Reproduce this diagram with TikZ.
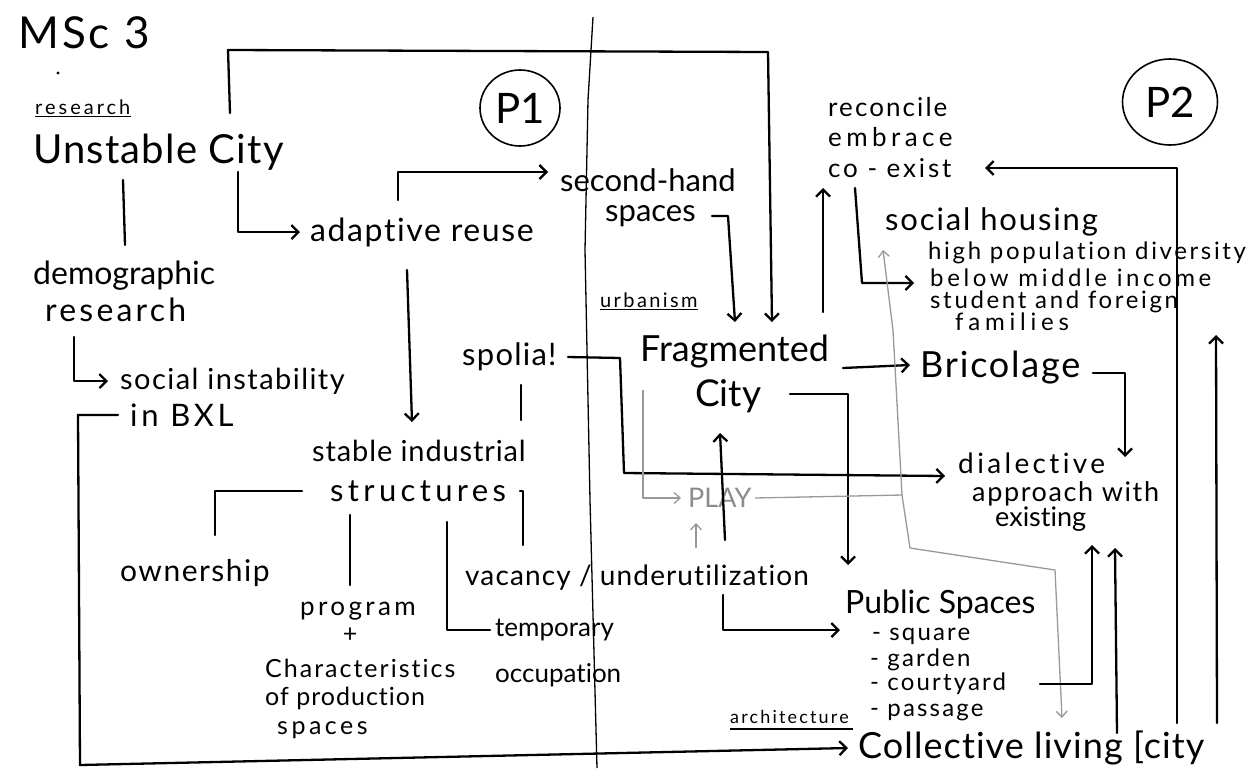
\documentclass[tikz,border=0pt]{standalone}
\usepackage{fontspec}
\setmainfont{Lato}[Ligatures=NoCommon]
\usetikzlibrary{arrows.meta,shapes.geometric}
\newcommand\hw[2]{\fontsize{#1}{#1}\selectfont\addfontfeature{LetterSpace=#2}}
\begin{document}
\begin{tikzpicture}[x=1pt,y=-1pt,
  t/.style={inner sep=0pt, anchor=west},
  ln/.style={line width=2.3pt, line join=round, line cap=round},
  arw/.style={ln, -{Straight Barb[length=7pt,width=14pt]}},
  gry/.style={line width=1.3pt, draw=black!40, line join=round},
  garw/.style={gry, -{Straight Barb[length=6pt,width=11pt]}},
  ul/.style={line width=1.4pt},
  circ/.style={draw, ellipse, line width=1.6pt, inner sep=0pt, font={\hw{42}{0}}},
]
\useasboundingbox (0,0) rectangle (1255,777);
\fill[white] (0,0) rectangle (1255,777);

% ---------- texts ----------
\node[t, font={\hw{44}{7}}] (msc) at (18,33) {MSc 3};
\fill (58,73) circle (1.6);
\node[t, font={\hw{20}{15}}] (res) at (35,107) {research};
\draw[ul] ([yshift=-2pt]res.south west) -- ([yshift=-2pt]res.south east);
\node[t, font={\hw{40}{3}}] (uc) at (33,152) {Unstable City};
\node[t, font={\hw{32}{0}}] (dr1) at (33,276) {demographic};
\node[t, font={\hw{32}{10}}] (dr2) at (45,310) {research};
\node[t, font={\hw{29}{5}}] (si1) at (120,381) {social instability};
\node[t, font={\hw{31}{12}}] (si2) at (130,415) {in BXL};
\node[t, font={\hw{32}{5}}] (ar) at (310,232) {adaptive reuse};
\node[circ, minimum width=80pt, minimum height=76pt] (p1) at (520,108) {P1};
\node[t, font={\hw{31}{0}}] (sh1) at (560,180) {second-hand};
\node[t, font={\hw{31}{0}}] (sh2) at (605,216) {spaces};
\node[t, font={\hw{20}{12}}] (urb) at (600,300) {urbanism};
\draw[ul] ([yshift=-2pt]urb.south west) -- ([yshift=-2pt]urb.south east);
\node[t, font={\hw{31}{4}}] (sp) at (462,357) {spolia!};
\node[t, font={\hw{36}{0}}] (fc1) at (640,352) {Fragmented};
\node[t, font={\hw{37}{0}}] (fc2) at (695,396) {City};
\node[t, font={\hw{29}{3}}] (sis1) at (312,451) {stable industrial};
\node[t, font={\hw{31}{14}}] (sis2) at (330,491) {structures};
\node[t, font={\hw{27}{0}}, text=black!45] (play) at (688,498) {PLAY};
\node[t, font={\hw{30}{5}}] (own) at (120,573) {ownership};
\node[t, font={\hw{28}{4}}] (vu) at (465,578) {vacancy / underutilization};
\node[t, font={\hw{26}{13}}] (pr1) at (300,611) {program};
\node[font={\hw{25}{0}}, inner sep=0pt] (pr2) at (350,635) {+};
\node[t, font={\hw{25}{8}}] (pr3) at (265,668) {Characteristics};
\node[t, font={\hw{25}{4}}] (pr4) at (265,698) {of production};
\node[t, font={\hw{25}{14}}] (pr5) at (277,730) {spaces};
\node[t, font={\hw{26}{0}}] (tm1) at (495,630) {temporary};
\node[t, font={\hw{26}{0}}] (tm2) at (495,675) {occupation};
\node[t, font={\hw{32}{0}}] (ps) at (845,604) {Public Spaces};
\node[t, font={\hw{24}{9}}] (sq) at (872,636) {- square};
\node[t, font={\hw{24}{9}}] (gd) at (870,660) {- garden};
\node[t, font={\hw{24}{9}}] (cy) at (870,684) {- courtyard};
\node[t, font={\hw{24}{9}}] (pa) at (870,712) {- passage};
\node[t, font={\hw{18}{12}}] (arch) at (730,717) {architecture};
\draw[ul] ([yshift=-5pt]arch.south west) -- ([yshift=-5pt,xshift=4pt]arch.south east);
\node[t, font={\hw{36}{3}}] (cl) at (858,748) {Collective living [city};
\node[t, font={\hw{26}{8}}] (rc1) at (828,107) {reconcile};
\node[t, font={\hw{26}{17}}] (rc2) at (828,137) {embrace};
\node[t, font={\hw{26}{11}}] (rc3) at (828,168) {co - exist};
\node[circ, minimum width=95pt, minimum height=86pt] (p2) at (1170,102) {P2};
\node[t, font={\hw{31}{6}}] (shg) at (885,222) {social housing};
\node[t, font={\hw{24}{11}}] (sl1) at (928,253) {high population diversity};
\node[t, font={\hw{24}{15}}] (sl2) at (930,278) {below middle income};
\node[t, font={\hw{24}{11}}] (sl3) at (930,302) {student and foreign};
\node[t, font={\hw{24}{20}}] (sl4) at (955,322) {families};
\node[t, font={\hw{36}{5}}] (bri) at (920,368) {Bricolage};
\node[t, font={\hw{28}{12}}] (di1) at (958,463) {dialective};
\node[t, font={\hw{27}{6}}] (di2) at (972,494) {approach with};
\node[t, font={\hw{27}{0}}] (di3) at (995,519) {existing};

% ---------- divider ----------
\draw[line width=1.3pt] (593,17) -- (588,100) -- (585,250) -- (590,500) -- (597,768);

% ---------- connectors ----------
\draw[arw] ([xshift=197pt,yshift=39pt]uc.west) -- ([xshift=195pt,yshift=102pt]uc.west)
  -- ([xshift=128pt,yshift=300pt]fc1.west) -- ([xshift=132pt,yshift=30pt]fc1.west);
\draw[arw] ([xshift=205pt,yshift=-20pt]uc.west) |- ([xshift=-10pt]ar.west);
\draw[ln] ([xshift=90pt,yshift=-28pt]uc.west) -- ([xshift=92pt,yshift=31pt]dr1.west);
\draw[arw] ([xshift=29pt,yshift=-27pt]dr2.west) |- ([xshift=-12pt]si1.west);
\draw[arw] ([xshift=-12pt]si2.west) -- ([xshift=-52pt]si2.west)
  -- ([xshift=-50pt,yshift=-350pt]si2.west) -- ([xshift=-10pt]cl.west);
\draw[arw] ([xshift=88pt,yshift=32pt]ar.west) |- ([xshift=-12pt,yshift=8pt]sh1.west);
\draw[arw] ([xshift=97pt,yshift=-38pt]ar.west) -- ([xshift=100pt,yshift=29pt]sis1.west);
\draw[ln] ([xshift=59pt,yshift=-28pt]sp.west) -- ([xshift=209pt,yshift=31pt]sis1.west);
\draw[arw] ([xshift=106pt]sp.west) -- ([xshift=158pt,yshift=-1pt]sp.west)
  -- ([xshift=162pt,yshift=-116pt]sp.west) -- ([xshift=-13pt,yshift=-13pt]di1.west);
\draw[arw] ([xshift=107pt]sh2.west) -- ([xshift=123pt]sh2.west) -- ([xshift=95pt,yshift=30pt]fc1.west);
\draw[arw] ([xshift=183pt,yshift=40pt]fc1.west) -- ([xshift=-5pt,yshift=-20pt]rc3.west);
\draw[arw] ([xshift=27pt,yshift=-20pt]rc3.west) -- ([xshift=-68pt,yshift=-5pt]sl2.west)
  -- ([xshift=-16pt,yshift=-5pt]sl2.west);
\draw[arw] ([xshift=203pt,yshift=-16pt]fc1.west) -- ([xshift=-10pt,yshift=3pt]bri.west);
\draw[arw] ([xshift=95pt,yshift=2pt]fc2.west) -| ([xshift=3pt,yshift=39pt]ps.west);
\draw[arw] ([xshift=260pt,yshift=38pt]vu.west) -- ([xshift=25pt,yshift=-37pt]fc2.west);
\draw[garw] ([xshift=231pt,yshift=30pt]vu.west) -- ([xshift=8pt,yshift=-25pt]play.west);
\draw[arw] ([xshift=258pt,yshift=-17pt]vu.west) |- ([xshift=-5pt,yshift=-26pt]ps.west);
\draw[garw] ([xshift=3pt,yshift=-38pt]fc1.west) |- ([xshift=-7pt]play.west);
\coordinate (j) at ([xshift=214pt,yshift=3pt]play.west);
\draw[gry] ([xshift=67pt]play.west) -- (j);
\draw[garw] (j) -- ([xshift=8pt,yshift=-108pt]shg.west) -- ([xshift=-2pt,yshift=-28pt]shg.west);
\draw[garw] (j) -- ([xshift=52pt,yshift=200pt]cl.west) -- ([xshift=197pt,yshift=178pt]cl.west)
  -- ([xshift=204pt,yshift=30pt]cl.west);
\draw[arw] ([xshift=173pt,yshift=-5pt]bri.west) -| ([xshift=167pt,yshift=6pt]di1.west);
\draw[arw] ([xshift=170pt]cy.west) -| ([xshift=97pt,yshift=-26pt]di3.west);
\draw[arw] ([xshift=259pt,yshift=15pt]cl.west) -- ([xshift=120pt,yshift=-29pt]di3.west);
\draw[arw] ([xshift=319pt,yshift=25pt]cl.west) |- ([xshift=157pt]rc3.west);
\draw[arw] ([xshift=359pt,yshift=25pt]cl.west) -- ([xshift=261pt,yshift=-13pt]sl4.west);

% lower-left tree
\draw[ln] ([xshift=-28pt]sis2.west) -| ([xshift=95pt,yshift=38pt]own.west);
\draw[ln] ([xshift=20pt,yshift=-24pt]sis2.west) -- ([xshift=50pt,yshift=26pt]pr1.west);
\draw[ln] ([xshift=117pt,yshift=-31pt]sis2.west) |- ([xshift=-5pt]tm1.west);
\draw[ln] ([xshift=190pt]sis2.west) -| ([xshift=58pt,yshift=33pt]vu.west);
\end{tikzpicture}
\end{document}
